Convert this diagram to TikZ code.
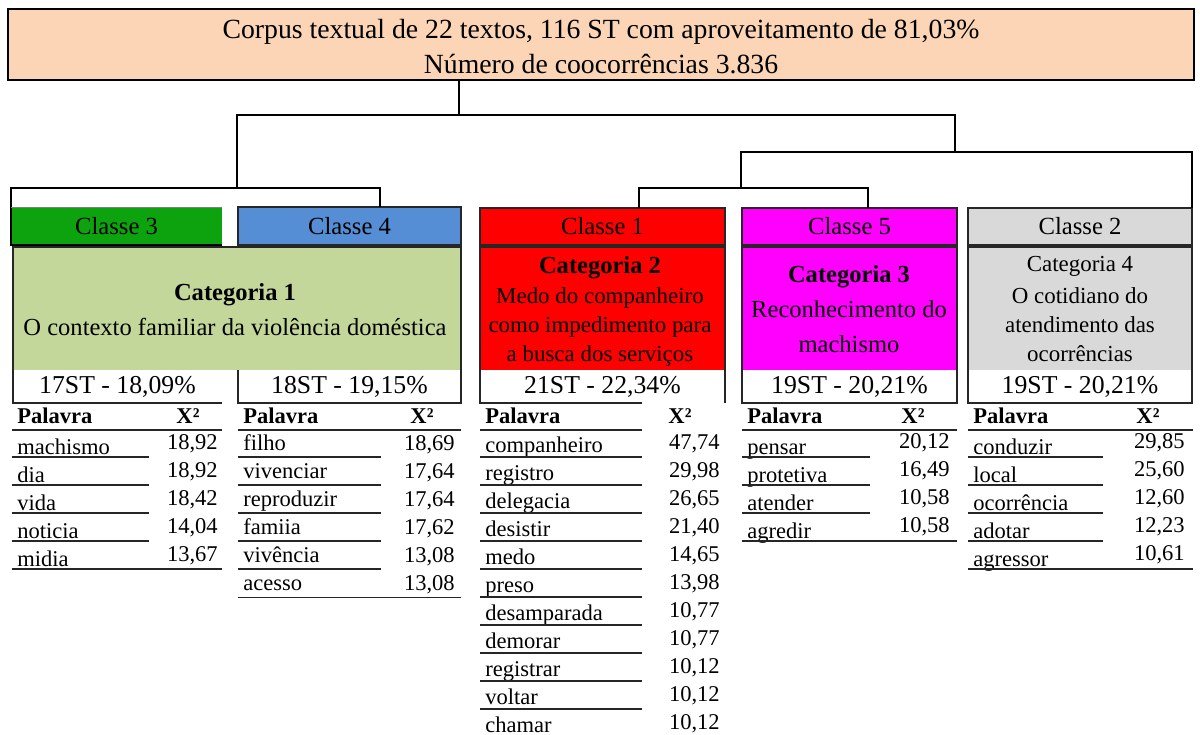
\documentclass[tikz,border=0pt]{standalone}
\usepackage{fontspec}
\setmainfont{Liberation Serif}
\definecolor{peach}{HTML}{FBD5B5}
\definecolor{gthree}{HTML}{0DA30F}
\definecolor{bfour}{HTML}{558ED5}
\definecolor{catg}{HTML}{C4D79B}
\definecolor{gry}{HTML}{D9D9D9}
\definecolor{mgt}{HTML}{FF00FF}
\definecolor{rd}{HTML}{FF0000}
\begin{document}
\begin{tikzpicture}[x=0.75pt,y=-0.75pt,
  conn/.style={line width=2.2pt, black},
  bx/.style n args={4}{inner sep=0pt, outer sep=0pt,
    minimum width={(#3-#1)*0.75pt}, minimum height={(#4-#2)*0.75pt},
    at={({(#1+#3)/2},{(#2+#4)/2})}},
  frame/.style={draw=black!85, line width=1.1pt},
  cls/.style={font=\fontsize{18.5}{22}\selectfont},
  pct/.style={font=\fontsize{19.3}{22}\selectfont},
  catA/.style={font=\fontsize{18.4}{22}\selectfont, anchor=base, inner sep=0pt},
  catB/.style={font=\fontsize{17.2}{21}\selectfont, anchor=base, inner sep=0pt},
  toptxt/.style={font=\fontsize{20.8}{24}\selectfont, anchor=base, inner sep=0pt},
  word/.style={font=\fontsize{16.9}{20}\selectfont, anchor=base west, inner sep=0pt},
  val/.style={font=\fontsize{16.9}{20}\selectfont, anchor=base east, inner sep=0pt},
  hdr/.style={font=\fontsize{16.9}{20}\selectfont\bfseries, inner sep=0pt},
  hline/.style={line width=2pt, black!85},
  rline/.style={line width=1.4pt, black!85}]
\useasboundingbox (0,0) rectangle (1200,735);

% top box
\node[bx={8}{9}{1194}{80}, fill=peach, draw=black, line width=2.2pt] (top) {};
\node[toptxt] (t1) at (601,39) {Corpus textual de 22 textos, 116 ST com aproveitamento de 81,03\%};
\node[toptxt] (t2) at (601,74) {Número de coocorrências 3.836};

% class boxes
\node[bx={11}{207}{222}{245}, fill=gthree, cls] (c3) {Classe 3};
\draw[line width=1.6pt] (c3.north west) -- (c3.south west) -- (c3.south east);
\draw[line width=0.6pt, black!50] (c3.north west) -- (c3.north east);
\node[bx={238}{207}{461}{245}, fill=bfour, frame, cls] (c4) {Classe 4};
\node[bx={480}{208}{725}{245}, fill=rd, frame, cls] (c1) {Classe 1};
\node[bx={742}{208}{957}{245}, fill=mgt, frame, cls] (c5) {Classe 5};
\node[bx={968}{208}{1192}{245}, fill=gry, frame, cls] (c2) {Classe 2};

% dendrogram
\coordinate (jA) at (459,115);
\coordinate (jL) at (237,188);
\coordinate (jR) at (955,152);
\coordinate (k4) at (380,188);
\coordinate (jRR) at (741,188);
\coordinate (k2) at (1192,152);
\coordinate (k1) at (639,188);
\coordinate (k5) at (868,188);
\draw[conn] (top.south -| jA) -- (jA);
\draw[conn] (jL) -- (jL |- jA) -- (jR |- jA) -- (jR);
\draw[conn] (c3.north west) |- (k4) -- (k4 |- c4.north);
\draw[conn] (jRR) -- (jRR |- jR) -- (k2) -- (k2 |- c2.north);
\draw[conn] (k1 |- c1.north) -- (k1) -- (k5) -- (k5 |- c5.north);

% category boxes
\node[bx={13}{247}{461}{370}, fill=catg] (cat1) {};
\node[bx={480}{247}{725}{370}, fill=rd] (cat2) {};
\node[bx={742}{247}{957}{370}, fill=mgt] (cat3) {};
\node[bx={968}{247}{1192}{370}, fill=gry] (cat4) {};

% percentage rows
\node[bx={13}{370}{222}{403}, pct] (p3) {17ST - 18,09\%};
\node[bx={238}{370}{461}{403}, pct] (p4) {18ST - 19,15\%};
\node[bx={480}{370}{725}{403}, pct] (p1) {21ST - 22,34\%};
\node[bx={742}{370}{957}{403}, pct] (p5) {19ST - 20,21\%};
\node[bx={968}{370}{1192}{403}, pct] (p2) {19ST - 20,21\%};

% frames
\draw[frame] (p3.south east) -- (p3.south west) -- (cat1.north west) -- (cat1.north east)
  -- (p4.south east) -- (p4.south west) -- (p4.south west |- cat1.south);
\coordinate (b1) at (642,403);
\draw[frame] (b1) -- (p1.south west) -- (cat2.north west) -- (cat2.north east) -- (p1.south east);
\draw[frame] (cat3.north west) rectangle (p5.south east);
\draw[frame] (cat4.north west) rectangle (p2.south east);

% category texts
\node[catA] (k1a) at (235,300) {\bfseries Categoria 1};
\node[catA] (k1b) at (235,335) {O contexto familiar da violência doméstica};
\node[catA] (k2a) at (600,273) {\bfseries Categoria 2};
\node[catB] (k2b) at (600,303) {Medo do companheiro};
\node[catB] (k2c) at (600,332) {como impedimento para};
\node[catB] (k2d) at (600,361) {a busca dos serviços};
\node[catA] (k3a) at (849,282) {\bfseries Categoria 3};
\node[catA] (k3b) at (849,317) {Reconhecimento do};
\node[catA] (k3c) at (849,352) {machismo};
\node[catB] (k4a) at (1080,271) {Categoria 4};
\node[catB] (k4b) at (1080,303) {O cotidiano do};
\node[catB] (k4c) at (1080,332) {atendimento das};
\node[catB] (k4d) at (1080,361) {ocorrências};

% table headers
\node[hdr, anchor=base west] (h3w) at (17,423) {Palavra};
\node[hdr, anchor=base] (h3v) at (188,423) {X²};
\draw[hline] (12,430) -- (222,430);
\node[hdr, anchor=base west] (h4w) at (243,423) {Palavra};
\node[hdr, anchor=base] (h4v) at (422,423) {X²};
\draw[hline] (238,430) -- (461,430);
\node[hdr, anchor=base west] (h1w) at (485,423) {Palavra};
\node[hdr, anchor=base] (h1v) at (680,423) {X²};
\draw[hline] (480,430) -- (642,430);
\node[hdr, anchor=base west] (h5w) at (747,423) {Palavra};
\node[hdr, anchor=base] (h5v) at (913,423) {X²};
\draw[hline] (742,430) -- (957,430);
\node[hdr, anchor=base west] (h2w) at (973,423) {Palavra};
\node[hdr, anchor=base] (h2v) at (1148,423) {X²};
\draw[hline] (968,430) -- (1193,430);

% table classe 3
\foreach \w/\v [count=\i] in {machismo/18{,}92, dia/18{,}92, vida/18{,}42, noticia/14{,}04, midia/13{,}67}{
  \pgfmathsetmacro\L{457+28.1*(\i-1)}
  \node[word] (t3w\i) at (17,\L-3) {\w};
  \node[val] (t3v\i) at (218,\L-8) {\v};
  \draw[rline] (12,\L) -- (149,\L);
}
\draw[rline] (12,569.4) -- (222,569.4);

% table classe 4
\foreach \w/\v [count=\i] in {filho/18{,}69, vivenciar/17{,}64, reproduzir/17{,}64, famiia/17{,}62, vivência/13{,}08, acesso/13{,}08}{
  \pgfmathsetmacro\L{457+28.1*(\i-1)}
  \node[word] (t4w\i) at (243,\L-7) {\w};
  \node[val] (t4v\i) at (455,\L-7) {\v};
  \draw[rline] (238,\L) -- (381,\L);
}
\draw[rline] (238,597.5) -- (461,597.5);

% table classe 1
\foreach \w/\v [count=\i] in {companheiro/47{,}74, registro/29{,}98, delegacia/26{,}65, desistir/21{,}40, medo/14{,}65, preso/13{,}98, desamparada/10{,}77, demorar/10{,}77, registrar/10{,}12, voltar/10{,}12, chamar/10{,}12}{
  \pgfmathsetmacro\L{457+28*(\i-1)}
  \node[word] (t1w\i) at (485,\L-5) {\w};
  \node[val] (t1v\i) at (720,\L-8) {\v};
  \ifnum\i<11 \draw[rline] (480,\L) -- (642,\L); \fi
}

% table classe 5
\foreach \w/\v [count=\i] in {pensar/20{,}12, protetiva/16{,}49, atender/10{,}58, agredir/10{,}58}{
  \pgfmathsetmacro\L{457+28.1*(\i-1)}
  \node[word] (t5w\i) at (747,\L-3) {\w};
  \node[val] (t5v\i) at (950,\L-9) {\v};
  \draw[rline] (742,\L) -- (870,\L);
}
\draw[rline] (742,541.3) -- (957,541.3);

% table classe 2
\foreach \w/\v [count=\i] in {conduzir/29{,}85, local/25{,}60, ocorrência/12{,}60, adotar/12{,}23, agressor/10{,}61}{
  \pgfmathsetmacro\L{457+28.1*(\i-1)}
  \node[word] (t2w\i) at (973,\L-3) {\w};
  \node[val] (t2v\i) at (1185,\L-9) {\v};
  \draw[rline] (968,\L) -- (1103,\L);
}
\draw[rline] (968,569.4) -- (1193,569.4);
\end{tikzpicture}
\end{document}
